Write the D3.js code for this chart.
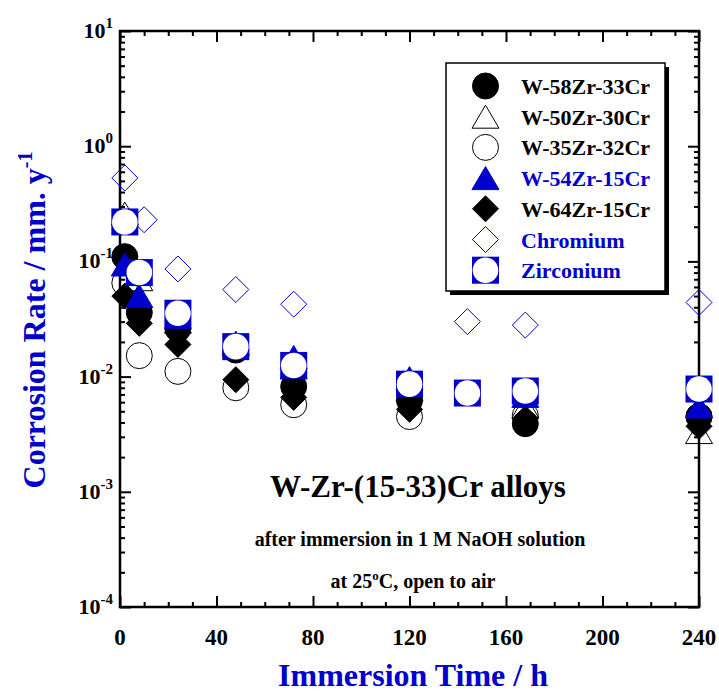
<!DOCTYPE html>
<html>
<head>
<meta charset="utf-8">
<script src="https://cdnjs.cloudflare.com/ajax/libs/d3/7.8.5/d3.min.js"></script>
<style>
  body { margin: 0; background: #fff; }
  svg { display: block; font-family: "Times New Roman", "Liberation Serif", Times, serif; font-weight: bold; }
</style>
</head>
<body>
<svg id="chart" width="719" height="691"></svg>
<script>
// data
var seriesNames = ["W-35Zr-32Cr", "W-50Zr-30Cr", "W-58Zr-33Cr", "W-64Zr-15Cr", "W-54Zr-15Cr", "Chromium", "Zirconium"];
var legendOrder = ["W-58Zr-33Cr", "W-50Zr-30Cr", "W-35Zr-32Cr", "W-54Zr-15Cr", "W-64Zr-15Cr", "Chromium", "Zirconium"];

var alloyTimes = [2, 8, 24, 48, 72, 120, 168, 240];
var w58Values = [0.11, 0.036, 0.026, 0.017, 0.0082, 0.0062, 0.0039, 0.0045];
var w50Values = [0.26, 0.07, 0.03, 0.019, 0.012, 0.0078, 0.0055, 0.0033];
var w35Values = [0.065, 0.0152, 0.0111, 0.008, 0.0057, 0.0045, 0.0046, 0.0045];
var w54Values = [0.094, 0.05, 0.033, 0.0197, 0.0148, 0.0097, 0.0068, 0.0055];
var w64Values = [0.05, 0.029, 0.019, 0.0094, 0.0066, 0.0052, 0.0043, 0.0037];

var crTimes = [2, 10, 24, 48, 72, 144, 168, 240];
var crValues = [0.53, 0.23, 0.086, 0.057, 0.0425, 0.030, 0.028, 0.044];

var zrTimes = [2, 8, 24, 48, 72, 120, 144, 168, 240];
var zrValues = [0.22, 0.08, 0.0355, 0.0182, 0.0125, 0.0086, 0.0072, 0.0075, 0.0078];

var xTicks = [0, 40, 80, 120, 160, 200, 240];
var yExponents = [-4, -3, -2, -1, 0, 1];

var blue = "#0000cc";

var svg = d3.select("#chart");
var plotLeft = 120, plotRight = 699, plotTop = 31, plotBottom = 607;

var x = d3.scaleLinear().domain([0, 240]).range([plotLeft, plotRight]);
var y = d3.scaleLog().domain([1e-4, 10]).range([plotBottom, plotTop]);

// marker styles per series
var styles = {
  "W-58Zr-33Cr": { shape: "circle", fill: "#000", stroke: "#000", text: "#000" },
  "W-50Zr-30Cr": { shape: "triangle", fill: "none", stroke: "#000", text: "#000" },
  "W-35Zr-32Cr": { shape: "circle", fill: "none", stroke: "#000", text: "#000" },
  "W-54Zr-15Cr": { shape: "triangle", fill: blue, stroke: blue, text: blue },
  "W-64Zr-15Cr": { shape: "diamond", fill: "#000", stroke: "#000", text: "#000" },
  "Chromium": { shape: "diamond", fill: "none", stroke: blue, text: blue },
  "Zirconium": { shape: "zr", fill: blue, stroke: blue, text: blue }
};

function zipSeries(times, values) {
  return times.map(function(t, i) { return { t: t, v: values[i] }; });
}

var seriesData = {
  "W-35Zr-32Cr": zipSeries(alloyTimes, w35Values),
  "W-50Zr-30Cr": zipSeries(alloyTimes, w50Values),
  "W-58Zr-33Cr": zipSeries(alloyTimes, w58Values),
  "W-64Zr-15Cr": zipSeries(alloyTimes, w64Values),
  "W-54Zr-15Cr": zipSeries(alloyTimes, w54Values),
  "Chromium": zipSeries(crTimes, crValues),
  "Zirconium": zipSeries(zrTimes, zrValues)
};

//draws one marker into group g centred at (cx, cy)
function drawMarker(g, name, cx, cy) {
  var s = styles[name];
  if (s.shape === "circle") {
    g.append("circle").attr("cx", cx).attr("cy", cy).attr("r", 13)
      .attr("fill", s.fill).attr("stroke", s.stroke).attr("stroke-width", 1);
  } else if (s.shape === "triangle") {
    var w = 13.5, h = 11.5;
    g.append("path")
      .attr("d", "M" + cx + "," + (cy - h) + "L" + (cx + w) + "," + (cy + h) + "L" + (cx - w) + "," + (cy + h) + "Z")
      .attr("fill", s.fill).attr("stroke", s.stroke).attr("stroke-width", 1);
  } else if (s.shape === "diamond") {
    var d = 13;
    g.append("path")
      .attr("d", "M" + cx + "," + (cy - d) + "L" + (cx + d) + "," + cy + "L" + cx + "," + (cy + d) + "L" + (cx - d) + "," + cy + "Z")
      .attr("fill", s.fill).attr("stroke", s.stroke).attr("stroke-width", 1);
  } else {
    g.append("rect").attr("x", cx - 13.5).attr("y", cy - 13.5).attr("width", 27).attr("height", 27)
      .attr("fill", blue);
    g.append("circle").attr("cx", cx).attr("cy", cy).attr("r", 12.8).attr("fill", "#fff");
  }
}

// axes: major and minor ticks pointing inward
var minorY = [];
for (var e = -4; e < 1; e++) {
  for (var k = 2; k <= 9; k++) minorY.push(k * Math.pow(10, e));
}
var minorX = d3.range(0, 241, 10).filter(function(v) { return v % 40 !== 0; });

function addAxis(axisFn, scale, values, size, transform) {
  var g = svg.append("g").attr("transform", transform)
    .call(axisFn(scale).tickValues(values).tickSize(size).tickFormat(""));
  g.select(".domain").remove();
  g.selectAll("line").attr("stroke", "#000").attr("stroke-width", 2);
  return g;
}

addAxis(d3.axisBottom, x, minorX, -5, "translate(0," + plotBottom + ")");
addAxis(d3.axisBottom, x, xTicks, -11, "translate(0," + plotBottom + ")");
addAxis(d3.axisTop, x, minorX, -5, "translate(0," + plotTop + ")");
addAxis(d3.axisTop, x, xTicks, -11, "translate(0," + plotTop + ")");
var yMajor = yExponents.map(function(p) { return Math.pow(10, p); });
addAxis(d3.axisLeft, y, minorY, -5, "translate(" + plotLeft + ",0)");
addAxis(d3.axisLeft, y, yMajor, -11, "translate(" + plotLeft + ",0)");
addAxis(d3.axisRight, y, minorY, -5, "translate(" + plotRight + ",0)");
addAxis(d3.axisRight, y, yMajor, -11, "translate(" + plotRight + ",0)");

svg.append("rect")
  .attr("x", plotLeft).attr("y", plotTop).attr("width", plotRight - plotLeft).attr("height", plotBottom - plotTop)
  .attr("fill", "none").attr("stroke", "#000").attr("stroke-width", 2.5);

// x tick labels
svg.append("g").selectAll("text")
  .data(xTicks)
  .enter().append("text")
  .attr("x", function(d) { return x(d); })
  .attr("y", plotBottom + 38)
  .attr("text-anchor", "middle")
  .attr("font-size", 23)
  .text(function(d) { return d; });

// y tick labels as 10^n
var yLab = svg.append("g").selectAll("text")
  .data(yExponents)
  .enter().append("text")
  .attr("x", 113)
  .attr("y", function(d) { return y(Math.pow(10, d)) + 7; })
  .attr("text-anchor", "end")
  .attr("font-size", 22);
yLab.append("tspan").text("10");
yLab.append("tspan").attr("font-size", 15).attr("dy", -10).text(function(d) { return d < 0 ? "-" + (-d) : d; });

// data markers
seriesNames.forEach(function(name) {
  var g = svg.append("g").attr("class", "series");
  seriesData[name].forEach(function(p) {
    drawMarker(g, name, x(p.t), y(p.v));
  });
});

// legend
var lgX = 446, lgY = 63, lgW = 219, lgH = 228;
svg.append("rect").attr("x", lgX + 4).attr("y", lgY + 4).attr("width", lgW).attr("height", lgH).attr("fill", "#000");
svg.append("rect").attr("x", lgX).attr("y", lgY).attr("width", lgW).attr("height", lgH)
  .attr("fill", "#fff").attr("stroke", "#000").attr("stroke-width", 1.5);
legendOrder.forEach(function(name, i) {
  var cy = 86 + i * 30.7;
  var g = svg.append("g");
  drawMarker(g, name, 485.5, cy);
  g.append("text").attr("x", 521).attr("y", cy + 8)
    .attr("font-size", 22).attr("fill", styles[name].text).text(name);
});

// annotations
svg.append("text").attr("x", 418).attr("y", 497).attr("text-anchor", "middle")
  .attr("font-size", 31).text("W-Zr-(15-33)Cr alloys");
svg.append("text").attr("x", 420).attr("y", 546).attr("text-anchor", "middle")
  .attr("font-size", 20).text("after immersion in 1 M NaOH solution");
var an3 = svg.append("text").attr("x", 413).attr("y", 588).attr("text-anchor", "middle")
  .attr("font-size", 20);
an3.append("tspan").text("at 25");
an3.append("tspan").attr("font-size", 13).attr("dy", -8).text("o");
an3.append("tspan").attr("dy", 8).text("C, open to air");

// axis titles
svg.append("text").attr("x", 413).attr("y", 686).attr("text-anchor", "middle")
  .attr("font-size", 32).attr("fill", blue).text("Immersion Time / h");
var yt = svg.append("text").attr("transform", "translate(45," + 320 + ") rotate(-90)")
  .attr("text-anchor", "middle").attr("font-size", 32).attr("fill", blue);
yt.append("tspan").text("Corrosion Rate / mm. y");
yt.append("tspan").attr("font-size", 20).attr("dy", -13).text("-1");
</script>
</body>
</html>
